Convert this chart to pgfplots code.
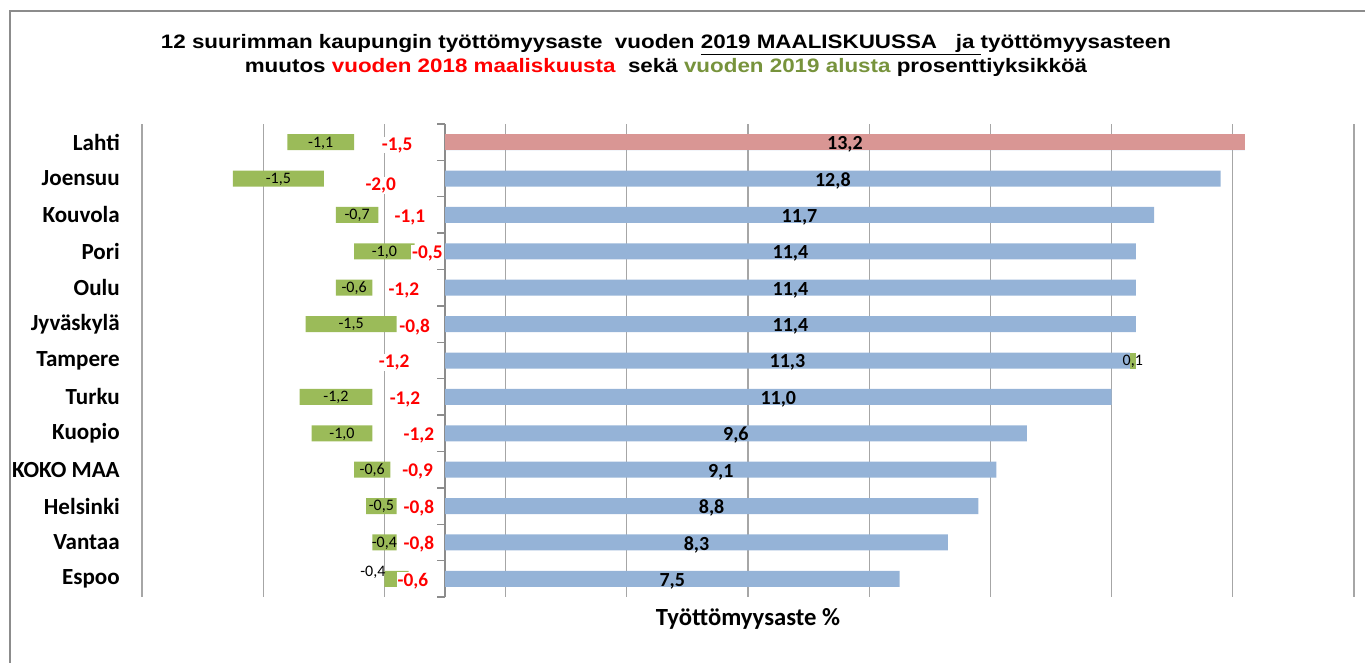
\documentclass[border=0pt]{standalone}
\usepackage{fontspec}
\setmainfont{Carlito}
\newfontfamily\titlefont{Liberation Sans}
\usepackage{pgfplots}
\usepackage{pgfplotstable}
\pgfplotsset{compat=1.18}

\definecolor{barblue}{HTML}{95B3D7}
\definecolor{barpink}{HTML}{D99694}
\definecolor{bargreen}{HTML}{9BBB59}
\definecolor{titlegreen}{HTML}{77933C}
\definecolor{titlered}{HTML}{FF0000}
\definecolor{gridgray}{HTML}{A6A6A6}
\definecolor{zerogray}{HTML}{8C8C8C}
\definecolor{framegray}{HTML}{8C8C8C}

% y: 0 = Lahti ... 12 = Espoo
% level = unemployment rate 2019/03, c18 = change from 2018/03, gneg/gpos = change from start of 2019
\pgfplotstableread{
y level c18 gneg gpos
0 13.2 -1.5 -1.1 0
1 12.8 -2.0 -1.5 0
2 11.7 -1.1 -0.7 0
3 11.4 -0.5 -1.0 0
4 11.4 -1.2 -0.6 0
5 11.4 -0.8 -1.5 0
6 11.3 -1.2 0 0.1
7 11.0 -1.2 -1.2 0
8 9.6 -1.2 -1.0 0
9 9.1 -0.9 -0.6 0
10 8.8 -0.8 -0.5 0
11 8.3 -0.8 -0.4 0
12 7.5 -0.6 -0.4 0
}\data

% label positions
\pgfplotstableread{
x y t
6.6 0.06 13,2
6.4 1.06 12,8
5.85 2.06 11,7
5.7 3.06 11,4
5.7 4.06 11,4
5.7 5.06 11,4
5.65 6.06 11,3
5.5 7.06 11,0
4.8 8.06 9,6
4.55 9.06 9,1
4.4 10.06 8,8
4.15 11.06 8,3
3.75 12.06 7,5
}\bluelab

\pgfplotstableread{
x y t
-0.79 0.08 -1,5
-1.06 1.18 -2,0
-0.58 2.08 -1,1
-0.29 3.06 -0,5
-0.68 4.08 -1,2
-0.50 5.08 -0,8
-0.84 6.06 -1,2
-0.66 7.06 -1,2
-0.43 8.06 -1,2
-0.45 9.06 -0,9
-0.43 10.06 -0,8
-0.43 11.06 -0,8
-0.53 12.06 -0,6
}\redlab

\pgfplotstableread{
x y t
-2.05 0.02 -1,1
-2.75 1.02 -1,5
-1.45 2.02 -0,7
-1.0 3.02 -1,0
-1.5 4.02 -0,6
-1.55 5.02 -1,5
11.35 6.02 0,1
-1.8 7.02 -1,2
-1.7 8.02 -1,0
-1.2 9.02 -0,6
-1.05 10.02 -0,5
-1.0 11.02 -0,4
-1.19 11.83 -0,4
}\greenlab

\pgfplotsset{
  base/.style={
    scale only axis, width=909pt, height=354.75pt,
    at={(106.5pt,48.75pt)}, anchor=south west,
    xmin=-5, xmax=15, ymin=-0.5, ymax=12.5, y dir=reverse,
    bar width=12pt,
    axis line style={draw=none}, major tick length=0pt,
  },
}

\begin{document}
\begin{tikzpicture}
\path[use as bounding box] (0,0) rectangle (1023.75pt,496.5pt);
\draw[framegray, line width=1.3pt] (7.5pt,-2pt) -- (7.5pt,488.25pt) -- (1023.75pt,488.25pt);

\node[font=\titlefont\bfseries\fontsize{14.6}{18}\selectfont, align=center, xscale=1.15] at (499.5pt,455pt)
{12 suurimman kaupungin työttömyysaste\ \ vuoden \underline{2019 MAALISKUUSSA\ \ \ ja\ }työttömyysasteen\\
muutos \textcolor{titlered}{vuoden 2018 maaliskuusta}\ \ sekä \textcolor{titlegreen}{vuoden 2019 alusta} prosenttiyksikköä};

% base axis: grid, categories, blue bars (+ positive change from start of 2019)
\begin{axis}[base, xbar stacked,
  xtick={-5,-3,...,15}, xticklabels={},
  xmajorgrids, grid style={gridgray, line width=0.9pt},
  extra x ticks={0}, extra x tick labels={},
  extra x tick style={grid style={zerogray, line width=1pt}},
  ytick={0,...,12},
  yticklabels={Lahti,Joensuu,Kouvola,Pori,Oulu,Jyväskylä,Tampere,Turku,Kuopio,KOKO MAA,Helsinki,Vantaa,Espoo},
  yticklabel style={font=\bfseries\fontsize{17.3}{17}\selectfont, inner sep=0pt, anchor=east, xshift=-16.5pt},
  xlabel={Työttömyysaste \%},
  xlabel style={font=\bfseries\fontsize{18.5}{20}\selectfont, at={(axis description cs:0.5,0)}, anchor=north, yshift=-5pt},
]
\addplot[fill=barblue, draw=none] table[x=level, y=y] \data;
\addplot[fill=bargreen, draw=none] table[x=gpos, y=y] \data;
\end{axis}

% negative side: invisible change from 2018, then green change from start of 2019
\begin{axis}[base, xbar stacked, hide axis]
\addplot[fill=none, draw=none] table[x=c18, y=y] \data;
\addplot[fill=bargreen, draw=none] table[x=gneg, y=y] \data;
\end{axis}

% overlay: Lahti highlight and labels
\begin{axis}[base, hide axis, clip=false]
\addplot[xbar, bar shift=0pt, fill=barpink, draw=none] coordinates {(13.2,0)};
\addplot[draw=none, mark=none, nodes near coords, point meta=explicit symbolic,
  every node near coord/.append style={anchor=center, font=\bfseries\fontsize{15}{15}\selectfont, text=black, inner sep=0pt}]
  table[x=x, y=y, meta=t] \bluelab;
\addplot[draw=none, mark=none, nodes near coords, point meta=explicit symbolic,
  every node near coord/.append style={anchor=center, font=\bfseries\fontsize{14.5}{15}\selectfont, text=titlered, fill=white, inner sep=0.6pt}]
  table[x=x, y=y, meta=t] \redlab;
\addplot[draw=none, mark=none, nodes near coords, point meta=explicit symbolic,
  every node near coord/.append style={anchor=center, font=\fontsize{12}{12}\selectfont, text=black, inner sep=0pt}]
  table[x=x, y=y, meta=t] \greenlab;
\pgfplotsinvokeforeach{-0.5,0.5,...,12.5}{\draw[zerogray, line width=1pt] (axis cs:0,#1) -- ++(-6pt,0pt);}
\end{axis}
\end{tikzpicture}
\end{document}
